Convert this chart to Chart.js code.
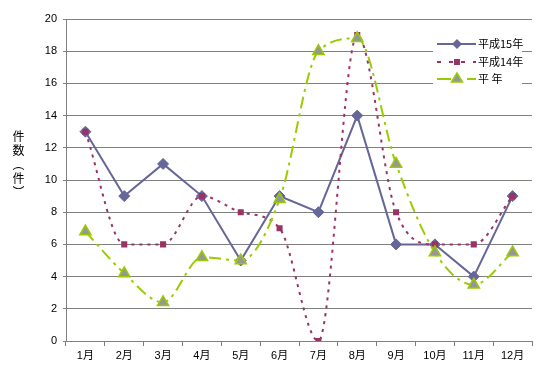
<!DOCTYPE html>
<html>
<head>
<meta charset="utf-8">
<script src="https://cdn.jsdelivr.net/npm/chart.js@4.4.0/dist/chart.umd.min.js"></script>
<style>
    body { margin: 0; background: #fff; }
    #wrap { position: relative; width: 551px; height: 380px; }
    #yTitle {
        position: absolute; left: 11px; top: 130px;
        writing-mode: vertical-rl; font-family: 'Noto Sans CJK JP', sans-serif;
        font-size: 12px; letter-spacing: 2px; line-height: 14px; color: #000;
    }
</style>
</head>
<body>
<div id="wrap">
    <canvas id="lineChart" width="551" height="380"></canvas>
    <div id="yTitle">件数（件）</div>
</div>
<script>
// data
const months = ['1月', '2月', '3月', '4月', '5月', '6月', '7月', '8月', '9月', '10月', '11月', '12月'];
const h15 = [13, 9, 11, 9, 5, 9, 8, 14, 6, 6, 4, 9];
const h14 = [13, 6, 6, 9, 8, 7, 0, 19, 8, 6, 6, 9];
const heinen = [6.8, 4.2, 2.4, 5.2, 5.0, 8.8, 18.0, 18.8, 11.0, 5.5, 3.5, 5.5];
const seriesNames = ['平成15年', '平成14年', '平 年'];

const fontFam = "'Liberation Sans', 'Noto Sans CJK JP', sans-serif";

// legend drawn inside the plot, like the original
const boxLegend = {
    id: 'boxLegend',
    afterDatasetsDraw(chart) {
        const ctx = chart.ctx;
        ctx.save();
        ctx.fillStyle = '#fff';
        ctx.fillRect(433, 34, 89, 52);
        const rows = [44, 62, 79];
        const x0 = 437, x1 = 476, mx = 457;
        // 平成15年
        ctx.strokeStyle = '#666699'; ctx.lineWidth = 2; ctx.setLineDash([]);
        ctx.beginPath(); ctx.moveTo(x0, rows[0]); ctx.lineTo(x1, rows[0]); ctx.stroke();
        ctx.fillStyle = '#666699';
        ctx.beginPath(); ctx.moveTo(mx, rows[0] - 5); ctx.lineTo(mx + 5, rows[0]);
        ctx.lineTo(mx, rows[0] + 5); ctx.lineTo(mx - 5, rows[0]); ctx.closePath(); ctx.fill();
        // 平成14年
        ctx.strokeStyle = '#993366'; ctx.setLineDash([4, 8]);
        ctx.beginPath(); ctx.moveTo(x0, rows[1]); ctx.lineTo(x1, rows[1]); ctx.stroke();
        ctx.fillStyle = '#993366'; ctx.fillRect(mx - 3, rows[1] - 3, 6, 6);
        // 平年
        ctx.strokeStyle = '#99CC00'; ctx.setLineDash([14, 6, 4, 6]);
        ctx.beginPath(); ctx.moveTo(x0, rows[2]); ctx.lineTo(x1, rows[2]); ctx.stroke();
        ctx.setLineDash([]);
        ctx.fillStyle = '#969696'; ctx.lineWidth = 1.5;
        ctx.beginPath(); ctx.moveTo(mx, rows[2] - 6); ctx.lineTo(mx + 5.5, rows[2] + 3);
        ctx.lineTo(mx - 5.5, rows[2] + 3); ctx.closePath(); ctx.fill(); ctx.stroke();
        // labels
        ctx.fillStyle = '#000';
        ctx.font = "11px 'Noto Sans CJK JP', sans-serif";
        ctx.textBaseline = 'middle';
        ctx.textAlign = 'left';
        seriesNames.forEach((n, i) => ctx.fillText(n, 478, rows[i]));
        ctx.restore();
    }
};

const ctx = document.getElementById('lineChart').getContext('2d');
new Chart(ctx, {
    type: 'line',
    data: {
        labels: months,
        datasets: [
            {
                label: seriesNames[0],
                data: h15,
                borderColor: '#666699',
                borderWidth: 2,
                pointStyle: 'rectRot',
                pointRadius: 5.5,
                pointBackgroundColor: '#666699',
                pointBorderColor: '#666699',
                pointBorderWidth: 1,
                tension: 0,
                order: 3
            },
            {
                label: seriesNames[1],
                data: h14,
                borderColor: '#993366',
                borderWidth: 2,
                borderDash: [3, 5],
                pointStyle: 'rect',
                pointRadius: 4.3,
                pointBackgroundColor: '#993366',
                pointBorderColor: '#993366',
                pointBorderWidth: 0,
                cubicInterpolationMode: 'monotone',
                order: 2
            },
            {
                label: seriesNames[2],
                data: heinen,
                borderColor: '#99CC00',
                borderWidth: 2,
                borderDash: [12, 5, 3, 5],
                pointStyle: 'triangle',
                pointRadius: 6.5,
                pointBackgroundColor: '#969696',
                pointBorderColor: '#99CC00',
                pointBorderWidth: 1.5,
                cubicInterpolationMode: 'monotone',
                order: 1
            }
        ]
    },
    options: {
        responsive: false,
        animation: false,
        layout: {
            padding: { left: 0, right: 19, top: 19, bottom: 0 }
        },
        plugins: {
            legend: { display: false },
            tooltip: { enabled: false }
        },
        scales: {
            x: {
                offset: true,
                grid: {
                    offset: true,
                    drawOnChartArea: false,
                    color: '#808080',
                    tickLength: 5
                },
                border: { color: '#808080' },
                ticks: {
                    color: '#000',
                    font: { family: fontFam, size: 11 },
                    maxRotation: 0,
                    padding: 3
                },
                afterFit(scale) { scale.height = 39; }
            },
            y: {
                min: 0,
                max: 20,
                ticks: {
                    stepSize: 2,
                    color: '#000',
                    font: { family: fontFam, size: 11 },
                    padding: 6
                },
                grid: {
                    color: '#808080',
                    tickLength: 3
                },
                border: { color: '#808080' },
                afterFit(scale) { scale.width = 66; }
            }
        }
    },
    plugins: [boxLegend]
});
</script>
</body>
</html>
